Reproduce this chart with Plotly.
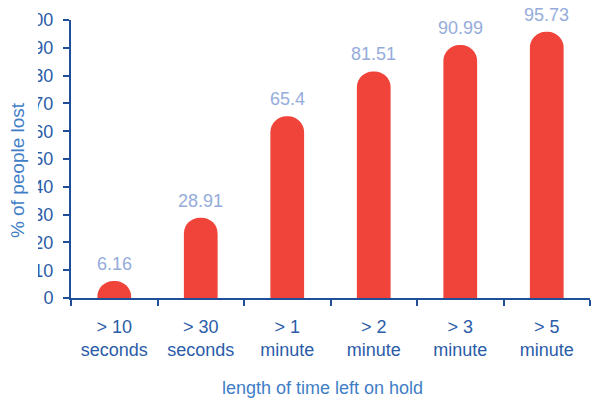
import plotly.graph_objects as go

# Hold-time buckets and share of callers who hung up
categories = ["> 10<br>seconds", "> 30<br>seconds", "> 1<br>minute",
              "> 2<br>minute", "> 3<br>minute", "> 5<br>minute"]
pct_lost = [6.16, 28.91, 65.4, 81.51, 90.99, 95.73]
y_ticks = [0, 10, 20, 30, 40, 50, 60, 70, 80, 90, 100]

RED = "#F0433A"
AXIS = "#1F4F99"
TICK_TXT = "#2B5CA8"
TITLE_TXT = "#3F7EC6"
VALUE_TXT = "#95ACDB"
FONT = "Liberation Sans, Arial, Helvetica, sans-serif"

fig = go.Figure(go.Bar(
    x=categories,
    y=pct_lost,
    marker=dict(color=RED, line=dict(width=0)),
    hoverinfo="skip",
))

# value labels above each bar
for c, v in zip(categories, pct_lost):
    fig.add_annotation(
        x=c, y=v, xref="x", yref="y",
        text=str(v), showarrow=False,
        yanchor="bottom", yshift=5,
        font=dict(family=FONT, size=18, color=VALUE_TXT),
    )

# axis titles
fig.add_annotation(
    x=0, y=0.46, xref="paper", yref="paper",
    xshift=-54, text="% of people lost", textangle=-90,
    showarrow=False, xanchor="center", yanchor="middle",
    font=dict(family=FONT, size=19, color=TITLE_TXT),
)
fig.add_annotation(
    x=0.4855, y=0, xref="paper", yref="paper",
    yshift=-90, text="length of time left on hold",
    showarrow=False, xanchor="center", yanchor="middle",
    font=dict(family=FONT, size=18, color=TITLE_TXT),
)

# blank strip along the left edge behind the y title
fig.add_shape(
    type="rect", xref="paper", yref="paper",
    xsizemode="pixel", xanchor=0,
    x0=-80, x1=-33, y0=-0.2, y1=1.1,
    fillcolor="white", line=dict(width=0), layer="above",
)

fig.update_layout(
    width=591, height=400,
    margin=dict(l=71, r=1, t=20, b=102),
    paper_bgcolor="white", plot_bgcolor="white",
    bargap=0.61,
    barcornerradius="50%",
    showlegend=False,
    font=dict(family=FONT, size=18, color=TICK_TXT),
    xaxis=dict(
        type="category",
        showline=True, linecolor=AXIS, linewidth=2,
        ticks="outside", tickson="boundaries", ticklen=6,
        tickcolor=AXIS, tickwidth=2,
        showgrid=False, zeroline=False,
        tickfont=dict(family=FONT, size=18, color=TICK_TXT),
        ticklabelstandoff=11,
    ),
    yaxis=dict(
        range=[0, 100],
        tickvals=y_ticks,
        showline=True, linecolor=AXIS, linewidth=2,
        ticks="outside", ticklen=6, tickcolor=AXIS, tickwidth=2,
        showgrid=False, zeroline=False,
        tickfont=dict(family=FONT, size=18, color=TICK_TXT),
        ticklabelstandoff=6,
    ),
)

fig.write_html("out.html")
